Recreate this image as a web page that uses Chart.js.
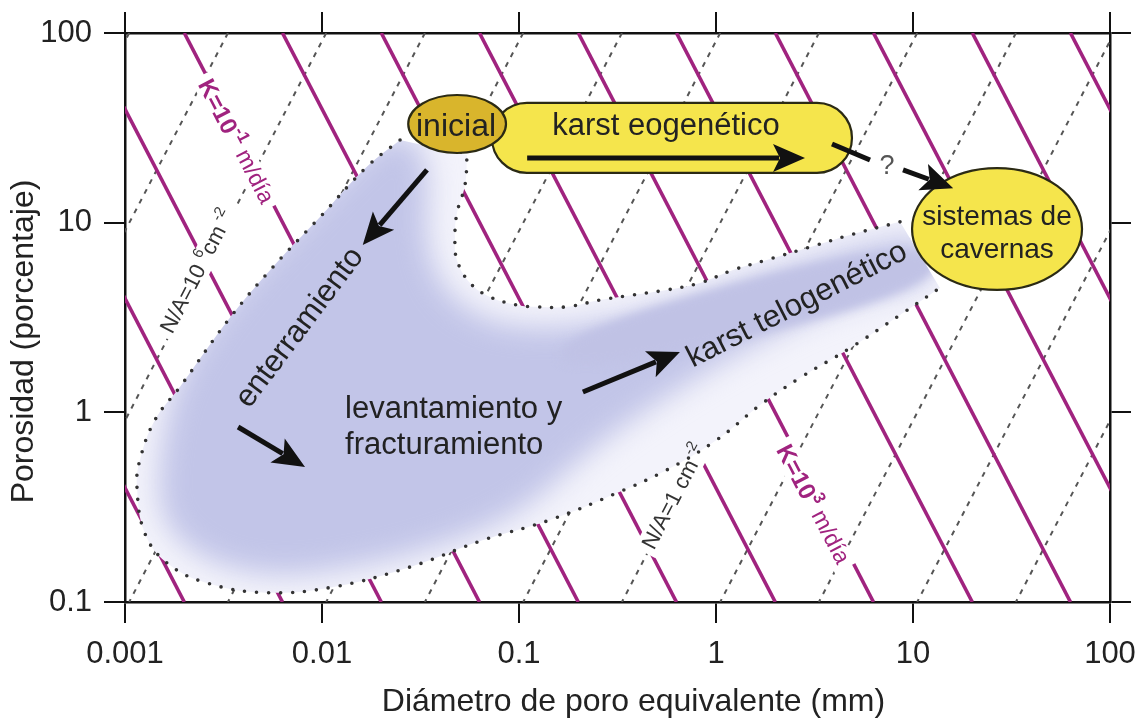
<!DOCTYPE html>
<html lang="es">
<head>
<meta charset="UTF-8">
<title>Porosidad vs diámetro de poro equivalente</title>
<script src="https://cdn.jsdelivr.net/npm/chart.js"></script>
<style>
    html, body { margin: 0; padding: 0; background: #fff; }
    canvas { display: block; }
</style>
</head>
<body>
<canvas id="chart" width="1138" height="726"></canvas>
<script>
// ---- values ----
const diameterTicks = [0.001, 0.01, 0.1, 1, 10, 100];
const porosityTicks = [0.1, 1, 10, 100];

// permeability lines (K): diameter where each line meets 100 % and 0.1 % porosity
const kLineTopD = [0.000063, 0.0002, 0.00063, 0.002, 0.0063, 0.02, 0.063, 0.2, 0.63, 2, 6.3, 20, 63];
const kLineBottomD = [0.002, 0.0063, 0.02, 0.063, 0.2, 0.63, 2, 6.3, 20, 63, 200, 630, 2000];

// pore density lines (N/A): diameter where each line meets 100 % and 0.1 % porosity
const naLineTopD = [0.0000333, 0.000105, 0.000333, 0.00105, 0.00333, 0.0105, 0.0333, 0.105, 0.333, 1.05, 3.33, 10.5, 33.3, 105, 333, 1050];
const naLineBottomD = [0.00000105, 0.00000333, 0.0000105, 0.0000333, 0.000105, 0.000333, 0.00105, 0.00333, 0.0105, 0.0333, 0.105, 0.333, 1.05, 3.33, 10.5, 33.3];

// dotted outline of the diagenetic field
const outerOutlineD = [0.0249, 0.0169, 0.00977, 0.00564, 0.00341, 0.0019, 0.00142, 0.00119, 0.00115, 0.00126, 0.00163, 0.0026, 0.00526, 0.0114, 0.028, 0.0657, 0.144, 0.314, 0.563, 1.01, 1.67, 2.67, 4.79, 8.59, 13.7];
const outerOutlineP = [27.3, 19.7, 10.7, 5.84, 3.15, 1.36, 0.912, 0.561, 0.404, 0.231, 0.161, 0.126, 0.112, 0.120, 0.153, 0.212, 0.271, 0.376, 0.497, 0.716, 1.09, 1.52, 2.18, 3.26, 4.53];
const innerOutlineD = [8.59, 4.79, 3.26, 1.81, 1.22, 0.829, 0.563, 0.379, 0.258, 0.175, 0.123, 0.0977, 0.0713, 0.0564, 0.0484, 0.0473, 0.0484, 0.0532, 0.0545];
const innerOutlineP = [10.1, 8.61, 7.63, 6.36, 5.63, 4.81, 4.42, 4.16, 3.91, 3.60, 3.60, 3.68, 4.06, 4.81, 6.36, 8.41, 11.2, 15.8, 22.7];

// shaded core of the field and the telogenetic band
const fieldD = [0.0224, 0.0152, 0.00879, 0.00508, 0.00307, 0.00179, 0.00148, 0.0015, 0.0024, 0.00545, 0.0131, 0.0353, 0.101, 0.229, 0.52, 1.67, 4.79, 13.7, 12.2, 4.79, 1.67, 0.737, 0.326, 0.161, 0.0802, 0.0502, 0.0375, 0.0333, 0.0353, 0.0314];
const fieldP = [30.1, 21.7, 11.8, 6.44, 3.47, 1.48, 0.561, 0.271, 0.167, 0.134, 0.148, 0.188, 0.288, 0.634, 1.16, 2.41, 3.91, 4.99, 8.93, 7.36, 5.30, 3.91, 3.15, 2.79, 2.89, 3.68, 5.30, 9.16, 16.8, 27.0];
const bandD = [0.161, 12.2, 13.7, 0.161];
const bandP = [2.72, 8.93, 4.32, 1.48];

// bubbles: [min, max] diameter and porosity
const inicialD = [0.0274, 0.0859];
const inicialP = [23.3, 47.1];
const eogeneticoD = [0.0729, 4.90];
const eogeneticoP = [18.3, 42.8];
const cavernasD = [9.89, 72.1];
const cavernasP = [4.42, 19.4];

// arrows
const arrowFromD = [0.11, 0.0341, 0.00375, 0.211, 3.88, 8.90];
const arrowFromP = [21.9, 19.0, 0.837, 1.28, 26.0, 19.0];
const arrowToD = [2.83, 0.0161, 0.0082, 0.656, 6.05, 16.0];
const arrowToP = [21.9, 7.63, 0.515, 2.08, 21.4, 15.2];
const arrowHasHead = [true, true, true, true, false, true];

// annotations
const labelText = ['inicial', 'karst eogenético', 'sistemas de', 'cavernas', 'enterramiento', 'levantamiento y', 'fracturamiento', 'karst telogenético', '?'];
const labelD = [0.0479, 0.557, 26.7, 26.7, 0.00773, 0.0131, 0.0131, 2.58, 7.38];
const labelP = [32.0, 32.0, 10.7, 7.18, 2.79, 1.03, 0.673, 3.68, 19.7];

const kLabelD = [0.00361, 3.07];
const kLabelP = [26.6, 0.325];
const kLabelExp = ['-1', '3'];
const naLabelD = [0.00235, 0.619];
const naLabelP = [5.50, 0.358];

// ---- styles ----
const FONT = "'Liberation Sans', Arial, Helvetica, sans-serif";
const MAGENTA = '#a0237f';
const GREY = '#555';
const TEXT = '#222';
const labelStyle = [
    { size: 32, angle: 0, align: 'center' },
    { size: 31, angle: 0, align: 'center' },
    { size: 28, angle: 0, align: 'center' },
    { size: 28, angle: 0, align: 'center' },
    { size: 31, angle: -53, align: 'center' },
    { size: 31, angle: 0, align: 'left' },
    { size: 31, angle: 0, align: 'left' },
    { size: 31, angle: -27, align: 'center' },
    { size: 27, angle: 0, align: 'center', color: '#555' }
];

function pts(xs, ys) {
    return xs.map((x, i) => ({ x: x, y: ys[i] }));
}

const dotted = { showLine: true, pointRadius: 0, borderColor: '#333', borderWidth: 3.6, borderDash: [0, 12], borderCapStyle: 'round', tension: 0.4 };
const datasets = [];
datasets.push(Object.assign({ data: pts(innerOutlineD, innerOutlineP), order: 0 }, dotted));
datasets.push(Object.assign({ data: pts(outerOutlineD, outerOutlineP), order: 1 }, dotted));
kLineTopD.forEach((d, i) => {
    datasets.push({ data: [{ x: d, y: 100 }, { x: kLineBottomD[i], y: 0.1 }], showLine: true, pointRadius: 0, borderColor: MAGENTA, borderWidth: 3.6, order: 2 });
});
naLineTopD.forEach((d, i) => {
    datasets.push({ data: [{ x: d, y: 100 }, { x: naLineBottomD[i], y: 0.1 }], showLine: true, pointRadius: 0, borderColor: GREY, borderWidth: 2, borderDash: [5, 6], order: 3 });
});

// helpers
function X(chart, v) { return chart.scales.x.getPixelForValue(v); }
function Y(chart, v) { return chart.scales.y.getPixelForValue(v); }

function smoothShape(ctx, p) {
    const n = p.length;
    const mid = (a, b) => ({ x: (a.x + b.x) / 2, y: (a.y + b.y) / 2 });
    const m0 = mid(p[n - 1], p[0]);
    ctx.beginPath();
    ctx.moveTo(m0.x, m0.y);
    for (let i = 0; i < n; i++) {
        const m = mid(p[i], p[(i + 1) % n]);
        ctx.quadraticCurveTo(p[i].x, p[i].y, m.x, m.y);
    }
    ctx.closePath();
}

// follow the same curve the library draws for an outline dataset
function traceOutline(ctx, meta, first) {
    const p = meta.data;
    if (first) ctx.moveTo(p[0].x, p[0].y);
    else ctx.lineTo(p[0].x, p[0].y);
    for (let i = 1; i < p.length; i++) {
        ctx.bezierCurveTo(p[i - 1].cp2x, p[i - 1].cp2y, p[i].cp1x, p[i].cp1y, p[i].x, p[i].y);
    }
}

function pieces(ctx, list) {
    let w = 0;
    list.forEach(p => { ctx.font = p.font; p.w = ctx.measureText(p.t).width; w += p.w; });
    return w;
}

function lineLabel(ctx, x, y, angle, list, color, gapOnly) {
    ctx.save();
    ctx.translate(x, y);
    ctx.rotate(angle * Math.PI / 180);
    const w = pieces(ctx, list);
    if (gapOnly) {
        ctx.fillStyle = '#fff';
        ctx.fillRect(-w / 2 - 6, -13, w + 12, 24);
    } else {
        ctx.fillStyle = color;
        ctx.textBaseline = 'middle';
        ctx.textAlign = 'left';
        let cx = -w / 2;
        list.forEach(p => { ctx.font = p.font; ctx.fillText(p.t, cx, p.dy || 0); cx += p.w; });
    }
    ctx.restore();
}

function kPieces(i) {
    return [
        { t: 'K=10', font: 'bold 24px ' + FONT },
        { t: kLabelExp[i], font: 'bold 17px ' + FONT, dy: -9 },
        { t: ' m/día', font: '23px ' + FONT, dy: -1 }
    ];
}
function naPieces(i) {
    if (i === 0) {
        return [
            { t: 'N/A=10 ', font: '22px ' + FONT },
            { t: '6', font: '15px ' + FONT, dy: -8 },
            { t: 'cm', font: '22px ' + FONT },
            { t: ' -2', font: '15px ' + FONT, dy: -8 }
        ];
    }
    return [
        { t: 'N/A=1 cm', font: '22px ' + FONT },
        { t: ' -2', font: '15px ' + FONT, dy: -8 }
    ];
}

function drawArrow(ctx, x1, y1, x2, y2, head) {
    const a = Math.atan2(y2 - y1, x2 - x1);
    const c = Math.cos(a), s = Math.sin(a);
    const hl = 32, hw = 14;
    ctx.strokeStyle = '#111';
    ctx.fillStyle = '#111';
    ctx.lineWidth = 5;
    ctx.lineCap = 'butt';
    ctx.beginPath();
    ctx.moveTo(x1, y1);
    ctx.lineTo(head ? x2 - (hl - 6) * c : x2, head ? y2 - (hl - 6) * s : y2);
    ctx.stroke();
    if (!head) return;
    const bx = x2 - hl * c, by = y2 - hl * s;
    ctx.beginPath();
    ctx.moveTo(x2, y2);
    ctx.lineTo(bx - hw * s, by + hw * c);
    ctx.lineTo(bx + 7 * c, by + 7 * s);
    ctx.lineTo(bx + hw * s, by - hw * c);
    ctx.closePath();
    ctx.fill();
}

function bubble(ctx, chart, ds, ps, fill) {
    const x1 = X(chart, ds[0]), x2 = X(chart, ds[1]);
    const y1 = Y(chart, ps[1]), y2 = Y(chart, ps[0]);
    ctx.beginPath();
    ctx.ellipse((x1 + x2) / 2, (y1 + y2) / 2, (x2 - x1) / 2, (y2 - y1) / 2, 0, 0, Math.PI * 2);
    ctx.fillStyle = fill;
    ctx.fill();
    ctx.lineWidth = 2.2;
    ctx.strokeStyle = '#2b2a14';
    ctx.stroke();
}

const diagram = {
    id: 'diagram',
    beforeDatasetDraw(chart, args) {
        if (args.index !== 1) return;
        const ctx = chart.ctx, a = chart.chartArea;
        ctx.save();
        ctx.beginPath();
        ctx.rect(a.left, a.top, a.right - a.left, a.bottom - a.top);
        ctx.clip();
        // gaps in the lines behind their labels
        kLabelD.forEach((d, i) => lineLabel(ctx, X(chart, d), Y(chart, kLabelP[i]), 62.6, kPieces(i), MAGENTA, true));
        naLabelD.forEach((d, i) => lineLabel(ctx, X(chart, d), Y(chart, naLabelP[i]), -62.6, naPieces(i), GREY, true));
        // the field inside the dotted outline hides the grid lines
        ctx.beginPath();
        traceOutline(ctx, chart.getDatasetMeta(1), true);
        traceOutline(ctx, chart.getDatasetMeta(0), false);
        ctx.closePath();
        ctx.fillStyle = 'rgb(243,243,251)';
        ctx.fill();
        ctx.clip();
        // soft shaded core
        ctx.fillStyle = 'rgb(194,197,232)';
        ctx.filter = 'blur(14px)';
        smoothShape(ctx, fieldD.map((d, i) => ({ x: X(chart, d), y: Y(chart, fieldP[i]) })));
        ctx.fill();
        ctx.filter = 'blur(5px)';
        ctx.fillStyle = 'rgb(192,194,229)';
        smoothShape(ctx, bandD.map((d, i) => ({ x: X(chart, d), y: Y(chart, bandP[i]) })));
        ctx.fill();
        ctx.filter = 'none';
        ctx.restore();
    },
    afterDatasetsDraw(chart) {
        const ctx = chart.ctx;
        ctx.save();
        // karst eogenético capsule
        const x1 = X(chart, eogeneticoD[0]), x2 = X(chart, eogeneticoD[1]);
        const y1 = Y(chart, eogeneticoP[1]), y2 = Y(chart, eogeneticoP[0]);
        const r = (y2 - y1) / 2, cy = (y1 + y2) / 2;
        ctx.beginPath();
        ctx.moveTo(x1 + r, y1);
        ctx.lineTo(x2 - r, y1);
        ctx.arc(x2 - r, cy, r, -Math.PI / 2, Math.PI / 2);
        ctx.lineTo(x1 + r, y2);
        ctx.arc(x1 + r, cy, r, Math.PI / 2, Math.PI * 1.5);
        ctx.closePath();
        ctx.fillStyle = '#f5e54c';
        ctx.fill();
        ctx.lineWidth = 2.2;
        ctx.strokeStyle = '#2b2a14';
        ctx.stroke();
        bubble(ctx, chart, inicialD, inicialP, '#d9b52c');
        bubble(ctx, chart, cavernasD, cavernasP, '#f5e54c');

        arrowFromD.forEach((d, i) => drawArrow(ctx, X(chart, d), Y(chart, arrowFromP[i]), X(chart, arrowToD[i]), Y(chart, arrowToP[i]), arrowHasHead[i]));

        labelText.forEach((t, i) => {
            const st = labelStyle[i];
            ctx.save();
            ctx.translate(X(chart, labelD[i]), Y(chart, labelP[i]));
            ctx.rotate(st.angle * Math.PI / 180);
            ctx.font = st.size + 'px ' + FONT;
            ctx.fillStyle = st.color || TEXT;
            ctx.textAlign = st.align;
            ctx.textBaseline = 'middle';
            ctx.fillText(t, 0, 0);
            ctx.restore();
        });

        kLabelD.forEach((d, i) => lineLabel(ctx, X(chart, d), Y(chart, kLabelP[i]), 62.6, kPieces(i), MAGENTA, false));
        naLabelD.forEach((d, i) => lineLabel(ctx, X(chart, d), Y(chart, naLabelP[i]), -62.6, naPieces(i), '#333', false));
        ctx.restore();
    }
};

function logAxis(position, values, opts) {
    return Object.assign({
        type: 'logarithmic',
        position: position,
        min: values[0],
        max: values[values.length - 1],
        afterBuildTicks: s => { s.ticks = values.map(v => ({ value: v })); },
        grid: { drawOnChartArea: false, drawTicks: true, tickLength: 21, color: '#111', lineWidth: 2 },
        border: { display: true, color: '#111', width: 2.5 }
    }, opts);
}

new Chart(document.getElementById('chart'), {
    type: 'scatter',
    data: { datasets: datasets },
    options: {
        responsive: false,
        animation: false,
        events: [],
        layout: { padding: 0 },
        plugins: { legend: { display: false }, tooltip: { enabled: false } },
        scales: {
            x: logAxis('bottom', diameterTicks, {
                afterFit: s => { s.height = 124; s.paddingLeft = 0; s.paddingRight = 0; },
                ticks: { callback: v => String(v), autoSkip: false, maxRotation: 0, padding: 13, color: TEXT, font: { family: FONT, size: 31 } },
                // the em space keeps the title a little right of the axis centre, as in the figure
                title: { display: true, text: '\u2003Diámetro de poro equivalente (mm)', color: TEXT, font: { family: FONT, size: 32 }, padding: { top: 0, bottom: 5 } }
            }),
            x2: logAxis('top', diameterTicks, {
                afterFit: s => { s.height = 33; s.paddingLeft = 0; s.paddingRight = 0; },
                ticks: { display: false }
            }),
            y: logAxis('left', porosityTicks, {
                afterFit: s => { s.width = 125; s.paddingTop = 0; s.paddingBottom = 0; },
                ticks: { callback: v => String(v), autoSkip: false, padding: 12, color: TEXT, font: { family: FONT, size: 31 } },
                title: { display: true, text: 'Porosidad (porcentaje)\u2003\u2002', color: TEXT, font: { family: FONT, size: 32 }, padding: { top: 5, bottom: 0 } }
            }),
            y2: logAxis('right', porosityTicks, {
                afterFit: s => { s.width = 28; s.paddingTop = 0; s.paddingBottom = 0; },
                ticks: { display: false }
            })
        }
    },
    plugins: [diagram]
});
</script>
</body>
</html>
